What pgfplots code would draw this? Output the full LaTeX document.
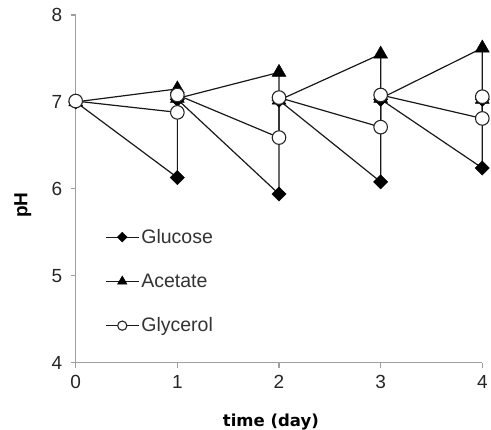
\documentclass[border=0pt]{standalone}
\usepackage{pgfplots}
\pgfplotsset{compat=1.18}
\usepackage{fontspec}
\setmainfont{Liberation Sans}
\newfontfamily\labfont{DejaVu Sans}
\begin{document}
\begin{tikzpicture}
\begin{axis}[
  name=ax,
  scale only axis,
  width=406.6pt, height=347.7pt,
  xmin=0, xmax=4, ymin=4, ymax=8,
  xtick={0,1,2,3,4}, ytick={4,5,6,7,8},
  axis lines*=left,
  axis line style={draw=gray!75, line width=1.1pt},
  tick style={draw=gray!75, line width=1.1pt},
  tick align=outside,
  major tick length=5pt,
  clip=false,
  /pgf/number format/assume math mode=true,
  tick label style={font=\fontsize{19}{20}\selectfont, text=black!85},
  xticklabel style={yshift=-4pt},
  yticklabel style={xshift=-5pt},
  xlabel={\textbf{time\ (day)}},
  ylabel={\textbf{pH}},
  xlabel style={font=\labfont\fontsize{16.5}{18}\selectfont, at={(rel axis cs:0.48,0)}, anchor=center, yshift=-59pt},
  ylabel style={font=\fontsize{19}{22}\selectfont, at={(rel axis cs:-0.13,0.4536)}, anchor=center, rotate=0},
  legend style={at={(rel axis cs:0.072,0.39)}, anchor=north west, draw=none, fill=none,
    font=\fontsize{19.5}{21}\selectfont, text=black!80,
    row sep=25pt, inner sep=0pt, nodes={inner sep=2pt}},
  legend cell align=left,
  legend image code/.code={\draw[#1, every mark/.append style={scale=0.68}] plot[mark repeat=2, mark phase=2] coordinates {(0pt,0pt) (16.5pt,0pt) (33pt,0pt)};},
  every axis plot/.append style={line width=1.2pt, draw=black!90},
]
\addplot[mark=square*, mark size=5pt, mark options={rotate=45, fill=black, draw=black, line width=0.5pt}] coordinates {
(0,7.00) (1,6.13) (1,7.03) (2,5.94) (2,7.02) (3,6.08) (3,7.03) (4,6.24) (4,7.03)};
\addlegendentry{Glucose}
\addplot[mark=triangle*, mark size=8pt, mark options={fill=black, draw=black, line width=0.5pt}] coordinates {
(0,7.00) (1,7.15) (1,7.04) (2,7.34) (2,7.02) (3,7.55) (3,7.04) (4,7.62) (4,7.03)};
\addlegendentry{Acetate}
\addplot[mark=*, mark size=6.8pt, mark options={fill=white, draw=black!85, line width=1.1pt}] coordinates {
(0,7.01) (1,6.88) (1,7.08) (2,6.59) (2,7.05) (3,6.71) (3,7.08) (4,6.81) (4,7.06)};
\addlegendentry{Glycerol}
\coordinate (sw) at (rel axis cs:0,0);
\coordinate (ne) at (rel axis cs:1,1);
\end{axis}
\pgfresetboundingbox
\path ([shift={(-75.7pt,-66.3pt)}]sw) rectangle ([shift={(8.7pt,15pt)}]ne);
\end{tikzpicture}
\end{document}
